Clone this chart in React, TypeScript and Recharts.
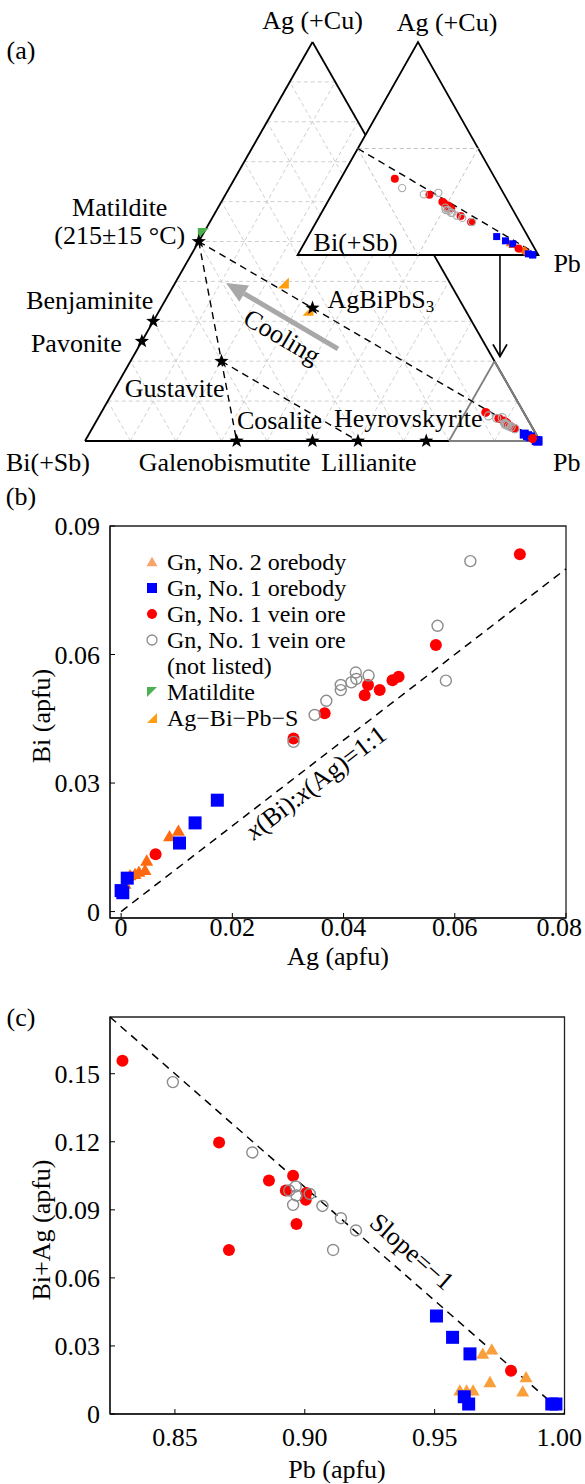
import React from 'react';
import { ScatterChart, Scatter, XAxis, YAxis, ReferenceLine, ReferenceArea, Legend } from 'recharts';

const FONT = '"Liberation Serif", "Times New Roman", Times, serif';
const FS = 26;

// ---------------- Panel (b): Ag vs Bi (apfu) ----------------
const bNo2Ag = [0.0103, 0.0087, 0.0046, 0.0043, 0.0025, 0.0016, 0.0007, 0.0032];
const bNo2Bi = [0.0186, 0.0173, 0.0116, 0.0094, 0.0085, 0.0082, 0.0062, 0.009];
const bNo1Ag = [0.0173, 0.0133, 0.0105, 0.0011, 0.0, 0.0003];
const bNo1Bi = [0.026, 0.0207, 0.016, 0.0078, 0.0049, 0.0044];
const bVeinAg = [0.0717, 0.0566, 0.0499, 0.0488, 0.0465, 0.0444, 0.0438, 0.0366, 0.031, 0.0062];
const bVeinBi = [0.0834, 0.0622, 0.0548, 0.054, 0.0517, 0.0529, 0.0505, 0.0463, 0.0404, 0.0134];
const bVeinNLAg = [0.0628, 0.0569, 0.0584, 0.0422, 0.0445, 0.0423, 0.0414, 0.0395, 0.0395, 0.0369, 0.0348, 0.031];
const bVeinNLBi = [0.0818, 0.0667, 0.0539, 0.0558, 0.0551, 0.0543, 0.0535, 0.0529, 0.0517, 0.0492, 0.0459, 0.0396];
const bXTicks = [0, 0.02, 0.04, 0.06, 0.08];
const bYTicks = [0, 0.03, 0.06, 0.09];

// ---------------- Panel (c): Pb vs Bi+Ag (apfu) ----------------
const cNo2Pb = [0.9685, 0.972, 0.9852, 0.9713, 0.9839, 0.9597, 0.9623, 0.9648];
const cNo2BiAg = [0.026, 0.0279, 0.0157, 0.0135, 0.0094, 0.0098, 0.0098, 0.0098];
const cNo1Pb = [0.9507, 0.9569, 0.9636, 0.9614, 0.9631, 0.9951, 0.9967];
const cNo1BiAg = [0.0432, 0.0338, 0.0265, 0.0076, 0.0044, 0.0044, 0.0044];
const cVeinPb = [0.8298, 0.867, 0.8862, 0.8955, 0.8927, 0.9004, 0.9006, 0.8968, 0.8708, 0.9794];
const cVeinBiAg = [0.1557, 0.1197, 0.1029, 0.105, 0.0985, 0.0944, 0.0974, 0.0838, 0.0723, 0.0191];
const cVeinNLPb = [0.8492, 0.8798, 0.894, 0.8965, 0.8968, 0.8955, 0.9019, 0.9068, 0.9139, 0.9197, 0.9109];
const cVeinNLBiAg = [0.1463, 0.1153, 0.0985, 0.1003, 0.0963, 0.0922, 0.097, 0.0917, 0.0863, 0.0809, 0.0723];
const cXTicks = [0.85, 0.9, 0.95, 1.0];
const cYTicks = [0, 0.03, 0.06, 0.09, 0.12, 0.15];

// ---------------- Panel (a): ternary Ag - Bi - Pb ----------------
const mineralNames = ['Matildite', 'Benjaminite', 'Pavonite', 'Gustavite', 'AgBiPbS3', 'Galenobismutite', 'Cosalite', 'Lillianite', 'Heyrovskyite'];
const mineralAg = [0.5, 0.3, 0.25, 0.2, 1 / 3, 0, 0, 0, 0];
const mineralBi = [0.5, 0.7, 0.75, 0.6, 1 / 3, 2 / 3, 0.5, 0.4, 0.25];
const mineralPb = [0, 0, 0, 0.2, 1 / 3, 1 / 3, 0.5, 0.6, 0.75];
const phaseAg = [0.396, 0.328];
const phaseBi = [0.366, 0.346];
const phasePb = [0.238, 0.326];
const matildAg = [0.52];
const matildBi = [0.48];
const matildPb = [0.0];
const gridSteps = [0.1, 0.2, 0.3, 0.4, 0.5, 0.6, 0.7, 0.8, 0.9];
const insetPbMin = 0.8;

// ---------------- helpers ----------------
type P = { x: number; y: number };
const tern = (ag: number, bi: number, pb: number): P => {
  const s = ag + bi + pb;
  return { x: (pb + ag / 2) / s, y: ag / s };
};
const IW = 1 - insetPbMin;
const ternInset = (ag: number, bi: number, pb: number): P => {
  const s = ag + bi + pb;
  const a = ag / s / IW;
  const p = (pb / s - insetPbMin) / IW;
  return { x: p + a / 2, y: a };
};
const zip = (xs: number[], ys: number[]) => xs.map((x, i) => ({ x, y: ys[i] }));
const galena = (ag: number[], bi: number[], f: (a: number, b: number, c: number) => P) =>
  ag.map((a, i) => f(a, bi[i], 1 - a - bi[i]));

const C = {
  red: '#ff0000',
  blue: '#0000ff',
  gray: '#8c8c8c',
  orangeB: '#ff6a10',
  orangeC: '#f9a03c',
  orangeLeg: '#f6a46c',
  phase: '#ff9f0f',
  green: '#4caf50',
};

const circleS = (r: number, fill: string) => (p: any) =>
  p.cx == null ? <g /> : <circle cx={p.cx} cy={p.cy} r={r} fill={fill} />;
const ringS = (r: number, stroke: string, sw: number) => (p: any) =>
  p.cx == null ? <g /> : <circle cx={p.cx} cy={p.cy} r={r} fill="none" stroke={stroke} strokeWidth={sw} />;
const squareS = (s: number, fill: string) => (p: any) =>
  p.cx == null ? <g /> : <rect x={p.cx - s / 2} y={p.cy - s / 2} width={s} height={s} fill={fill} />;
const triPts = (cx: number, cy: number, s: number) => {
  const h = s * 0.866;
  return `${cx},${cy - (h * 2) / 3} ${cx - s / 2},${cy + h / 3} ${cx + s / 2},${cy + h / 3}`;
};
const triS = (s: number, fill: string) => (p: any) =>
  p.cx == null ? <g /> : <polygon points={triPts(p.cx, p.cy, s)} fill={fill} />;
const rtriPts = (cx: number, cy: number, s: number) =>
  `${cx + s / 2},${cy - s / 2} ${cx + s / 2},${cy + s / 2} ${cx - s / 2},${cy + s / 2}`;
const rtriS = (s: number, fill: string) => (p: any) =>
  p.cx == null ? <g /> : <polygon points={rtriPts(p.cx, p.cy, s)} fill={fill} />;
const ltriPts = (cx: number, cy: number, s: number) =>
  `${cx - s / 2},${cy - s / 2} ${cx + s / 2},${cy - s / 2} ${cx - s / 2},${cy + s / 2}`;
const ltriS = (s: number, fill: string) => (p: any) =>
  p.cx == null ? <g /> : <polygon points={ltriPts(p.cx, p.cy, s)} fill={fill} />;
const starPath = (cx: number, cy: number, R: number, r: number) => {
  let d = '';
  for (let i = 0; i < 10; i++) {
    const rad = i % 2 === 0 ? R : r;
    const a = -Math.PI / 2 + (i * Math.PI) / 5;
    d += (i === 0 ? 'M' : 'L') + (cx + rad * Math.cos(a)).toFixed(2) + ',' + (cy + rad * Math.sin(a)).toFixed(2);
  }
  return d + 'Z';
};
const starS = (p: any) => (p.cx == null ? <g /> : <path d={starPath(p.cx, p.cy, 7.5, 3)} fill="#000" />);

const labelS = (p: any) => {
  const d = p.payload || {};
  if (p.cx == null) return <g />;
  const x = p.cx + (d.dx || 0);
  const y = p.cy + (d.dy || 0);
  return (
    <text
      x={x}
      y={y}
      textAnchor={d.anchor || 'middle'}
      dominantBaseline="central"
      fontFamily={FONT}
      fontSize={FS}
      fill="#000"
      transform={d.rotate ? `rotate(${d.rotate} ${x} ${y})` : undefined}
    >
      {d.parts
        ? d.parts.map((pt: any, i: number) => (
            <tspan key={i} fontStyle={pt.i ? 'italic' : undefined} dy={pt.dy} fontSize={pt.fs}>
              {pt.t}
            </tspan>
          ))
        : d.text}
    </text>
  );
};

const grayArrow = (p: any) => {
  const { x1, y1, x2, y2 } = p;
  const ang = Math.atan2(y2 - y1, x2 - x1);
  const L = 21, W = 9.5;
  const bx = x2 - L * Math.cos(ang), by = y2 - L * Math.sin(ang);
  const nx = -Math.sin(ang), ny = Math.cos(ang);
  return (
    <g>
      <line x1={x1} y1={y1} x2={bx} y2={by} stroke="#a8a8a8" strokeWidth={5} />
      <polygon points={`${x2},${y2} ${bx + W * nx},${by + W * ny} ${bx - W * nx},${by - W * ny}`} fill="#a8a8a8" />
    </g>
  );
};
const openArrow = (p: any) => {
  const { x1, y1, x2, y2 } = p;
  const ang = Math.atan2(y2 - y1, x2 - x1);
  const L = 12, W = 7;
  const bx = x2 - L * Math.cos(ang), by = y2 - L * Math.sin(ang);
  const nx = -Math.sin(ang), ny = Math.cos(ang);
  return (
    <g>
      <line x1={x1} y1={y1} x2={x2} y2={y2} stroke="#000" strokeWidth={1.6} />
      <polyline points={`${bx + W * nx},${by + W * ny} ${x2},${y2} ${bx - W * nx},${by - W * ny}`} fill="none" stroke="#000" strokeWidth={1.8} />
    </g>
  );
};

// layout of the ternary panel (chart domains chosen so the triangle lands in place)
const A_XDOM: [number, number] = [-85 / 455, 500 / 455];
const A_YDOM: [number, number] = [-39 / 399, 441 / 399];
const I_XDOM: [number, number] = [-297.6 / 240.8, (585 - 297.6) / 240.8];
const I_YDOM: [number, number] = [(255 - 480) / 213, 255 / 213];

const coolingArrow: P[] = [{ x: 0.556, y: 0.231 }, { x: 0.31, y: 0.396 }];
const downArrow: P[] = [{ x: 0.912, y: 0.466 }, { x: 0.912, y: 0.212 }];

const mineralLabelLayout: Record<string, any[]> = {
  Matildite: [
    { text: 'Matildite', dx: -79, dy: -34 },
    { text: '(215±15 °C)', dx: -79, dy: -6 },
  ],
  Benjaminite: [{ text: 'Benjaminite', dx: 0, dy: -21, anchor: 'end' }],
  Pavonite: [{ text: 'Pavonite', dx: -20, dy: 2, anchor: 'end' }],
  Gustavite: [{ text: 'Gustavite', dx: 3, dy: 27, anchor: 'end' }],
  AgBiPbS3: [{ parts: [{ t: 'AgBiPbS' }, { t: '3', dy: 7, fs: 17 }], dx: 15, dy: -9, anchor: 'start' }],
  Galenobismutite: [{ text: 'Galenobismutite', dx: -12, dy: 21 }],
  Cosalite: [{ text: 'Cosalite', dx: -33, dy: -21 }],
  Lillianite: [{ text: 'Lillianite', dx: 11, dy: 21 }],
  Heyrovskyite: [{ text: 'Heyrovskyrite', dx: -18, dy: -23 }],
};

const segLine = (a: P, b: P, key: string, stroke: string, sw: number, dash?: string) => (
  <ReferenceLine
    key={key}
    segment={[a, b]}
    stroke={stroke}
    strokeWidth={sw}
    strokeDasharray={dash}
    ifOverflow="visible"
  />
);

function TernaryMain() {
  const vAg = tern(1, 0, 0), vBi = tern(0, 1, 0), vPb = tern(0, 0, 1);
  const minerals = mineralNames.map((n, i) => ({ name: n, ...tern(mineralAg[i], mineralBi[i], mineralPb[i]) }));
  const grid: P[][] = gridSteps.flatMap((k) => [
    [tern(k, 1 - k, 0), tern(k, 0, 1 - k)],
    [tern(0, 1 - k, k), tern(1 - k, 0, k)],
    [tern(0, k, 1 - k), tern(1 - k, k, 0)],
  ]);
  const m = (n: string) => minerals.find((q) => q.name === n)!;
  const joins: P[][] = [
    [m('Matildite'), vPb],
    [m('Matildite'), m('Galenobismutite')],
    [m('Gustavite'), m('Lillianite')],
  ];
  const g1 = tern(0, 1 - insetPbMin, insetPbMin), g2 = tern(1 - insetPbMin, 0, insetPbMin);
  const labels: any[] = [];
  minerals.forEach((q) => (mineralLabelLayout[q.name] || []).forEach((l) => labels.push({ x: q.x, y: q.y, ...l })));
  labels.push({ ...vAg, text: 'Ag (+Cu)', dx: 0, dy: -22 });
  labels.push({ ...vBi, text: 'Bi(+Sb)', dx: -37, dy: 21 });
  labels.push({ ...vPb, text: 'Pb', dx: 13, dy: 21, anchor: 'start' });
  labels.push({ x: 0.433, y: 0.261, text: 'Cooling', rotate: 30.5 });

  return (
    <ScatterChart width={585} height={480} margin={{ top: 0, right: 0, bottom: 0, left: 0 }}>
      <XAxis type="number" dataKey="x" domain={A_XDOM} hide allowDataOverflow />
      <YAxis type="number" dataKey="y" domain={A_YDOM} hide allowDataOverflow />
      {grid.map((s, i) => segLine(s[0], s[1], 'g' + i, '#c9c9c9', 0.9, '4 3'))}
      {segLine(vBi, vPb, 'e1', '#000', 1.8)}
      {segLine(vPb, vAg, 'e2', '#000', 1.8)}
      {segLine(vAg, vBi, 'e3', '#000', 1.8)}
      {segLine(g1, g2, 'z1', '#808080', 1.8)}
      {segLine(g2, vPb, 'z2', '#808080', 1.8)}
      {segLine(g1, vPb, 'z3', '#808080', 1.8)}
      {joins.map((s, i) => segLine(s[0], s[1], 'j' + i, '#000', 1.4, '7 5'))}
      <ReferenceLine segment={coolingArrow} shape={grayArrow} ifOverflow="visible" />
      <ReferenceLine segment={downArrow} shape={openArrow} ifOverflow="visible" />
      <Scatter data={galena(bNo2Ag, bNo2Bi, tern)} shape={triS(9, C.orangeB)} isAnimationActive={false} />
      <Scatter data={galena(bNo1Ag, bNo1Bi, tern)} shape={squareS(9, C.blue)} isAnimationActive={false} />
      <Scatter data={galena(bVeinAg, bVeinBi, tern)} shape={circleS(4.5, C.red)} isAnimationActive={false} />
      <Scatter data={galena(bVeinNLAg, bVeinNLBi, tern)} shape={ringS(4, '#aaa', 1.2)} isAnimationActive={false} />
      <Scatter data={phaseAg.map((a, i) => tern(a, phaseBi[i], phasePb[i]))} shape={rtriS(11, C.phase)} isAnimationActive={false} />
      <Scatter data={matildAg.map((a, i) => tern(a, matildBi[i], matildPb[i]))} shape={ltriS(11, C.green)} isAnimationActive={false} />
      <Scatter data={minerals} shape={starS} isAnimationActive={false} />
      <Scatter data={labels} shape={labelS} isAnimationActive={false} />
    </ScatterChart>
  );
}

const insetTriangle = (p: any) => {
  const { x, y, width, height } = p;
  return (
    <polygon
      points={`${x},${y + height} ${x + width / 2},${y} ${x + width},${y + height}`}
      fill="#fff"
      stroke="#000"
      strokeWidth={1.8}
    />
  );
};

function TernaryInset() {
  const mid = [tern(0.5, 0.5, 0), tern(0.5, 0, 0.5), tern(0, 0.5, 0.5)];
  const labels = [
    { ...tern(1, 0, 0), text: 'Ag (+Cu)', dx: 29, dy: -20 },
    { ...tern(0, 1, 0), text: 'Bi(+Sb)', dx: 16, dy: -13, anchor: 'start' },
    { ...tern(0, 0, 1), text: 'Pb', dx: 15, dy: 8, anchor: 'start' },
  ];
  return (
    <ScatterChart width={585} height={480} margin={{ top: 0, right: 0, bottom: 0, left: 0 }}>
      <XAxis type="number" dataKey="x" domain={I_XDOM} hide allowDataOverflow />
      <YAxis type="number" dataKey="y" domain={I_YDOM} hide allowDataOverflow />
      <ReferenceArea x1={0} x2={1} y1={0} y2={1} shape={insetTriangle} ifOverflow="visible" />
      {segLine(mid[0], mid[1], 'm1', '#c4c4c4', 1, '4 3')}
      {segLine(mid[0], mid[2], 'm2', '#c4c4c4', 1, '4 3')}
      {segLine(mid[1], mid[2], 'm3', '#c4c4c4', 1, '4 3')}
      {segLine(mid[0], tern(0, 0, 1), 'l11', '#000', 1.4, '7 5')}
      <Scatter data={galena(bNo2Ag, bNo2Bi, ternInset)} shape={triS(8, C.orangeB)} isAnimationActive={false} />
      <Scatter data={galena(bNo1Ag, bNo1Bi, ternInset)} shape={squareS(7, C.blue)} isAnimationActive={false} />
      <Scatter data={galena(bVeinAg, bVeinBi, ternInset)} shape={circleS(4, C.red)} isAnimationActive={false} />
      <Scatter data={galena(bVeinNLAg, bVeinNLBi, ternInset)} shape={ringS(3.6, '#aaa', 1.1)} isAnimationActive={false} />
      <Scatter data={labels} shape={labelS} isAnimationActive={false} />
    </ScatterChart>
  );
}

const fmtTick = (v: number) => (v === 0 ? '0' : v.toFixed(2));
const tickStyle = { fill: '#000', fontSize: FS, fontFamily: FONT };

// bottom-axis tick: keeps the last label inside the picture, as in the reference
const XTick = (props: any) => {
  const { x, y, payload } = props;
  const label = fmtTick(payload.value);
  const half = label.length * 6.1;
  const fits = x + half <= 583;
  return (
    <text x={fits ? x : 582} y={y} dy="0.71em" textAnchor={fits ? 'middle' : 'end'} fill="#000" fontSize={FS} fontFamily={FONT}>
      {label}
    </text>
  );
};

const LFS = 24;
const legendItems = [
  { label: 'Gn, No. 2 orebody', icon: 'tri', color: C.orangeLeg },
  { label: 'Gn, No. 1 orebody', icon: 'square', color: C.blue },
  { label: 'Gn, No. 1 vein ore', icon: 'circle', color: C.red },
  { label: 'Gn, No. 1 vein ore', label2: '(not listed)', icon: 'ring', color: C.gray },
  { label: 'Matildite', icon: 'ltri', color: C.green },
  { label: 'Ag−Bi−Pb−S', icon: 'rtri', color: C.phase },
];
const legendIcon = (icon: string, color: string) => {
  const cx = 12, cy = 13;
  if (icon === 'tri') return <polygon points={triPts(cx, cy + 1, 11)} fill={color} />;
  if (icon === 'square') return <rect x={cx - 5} y={cy - 5} width={10} height={10} fill={color} />;
  if (icon === 'circle') return <circle cx={cx} cy={cy} r={5} fill={color} />;
  if (icon === 'ring') return <circle cx={cx} cy={cy} r={5} fill="none" stroke={color} strokeWidth={1.3} />;
  if (icon === 'ltri') return <polygon points={ltriPts(cx, cy, 10)} fill={color} />;
  return <polygon points={rtriPts(cx, cy, 10)} fill={color} />;
};
const renderLegend = () => (
  <div style={{ fontFamily: FONT, fontSize: LFS, lineHeight: '26px', color: '#000', whiteSpace: 'nowrap' }}>
    {legendItems.map((it, i) => (
      <React.Fragment key={i}>
        <div style={{ display: 'flex', alignItems: 'center', height: 26 }}>
          <svg width={27} height={26} style={{ flex: 'none' }}>
            {legendIcon(it.icon, it.color)}
          </svg>
          <span>{it.label}</span>
        </div>
        {it.label2 ? <div style={{ paddingLeft: 27, height: 26 }}>{it.label2}</div> : null}
      </React.Fragment>
    ))}
  </div>
);

const B_XDOM: [number, number] = [-0.002, 0.08];
const B_YDOM: [number, number] = [-0.0015, 0.09];

function PanelB() {
  return (
    <ScatterChart width={585} height={500} margin={{ top: 46, right: 19, bottom: 32, left: 50 }}>
      <XAxis type="number" dataKey="x" domain={B_XDOM} ticks={bXTicks} interval={0}
        allowDataOverflow stroke="#000" tickSize={-5} tickMargin={5} height={30} tick={XTick} />
      <YAxis type="number" dataKey="y" domain={B_YDOM} ticks={bYTicks} tickFormatter={fmtTick} interval={0}
        allowDataOverflow stroke="#000" tickSize={-5} tickMargin={15} width={60} tick={tickStyle} />
      <ReferenceArea x1={B_XDOM[0]} x2={B_XDOM[1]} y1={B_YDOM[0]} y2={B_YDOM[1]} fill="none" fillOpacity={0}
        stroke="#222" strokeWidth={1.3} ifOverflow="visible" />
      <ReferenceLine segment={[{ x: 0, y: 0 }, { x: 0.08, y: 0.08 }]} stroke="#000" strokeWidth={1.5}
        strokeDasharray="8 6" ifOverflow="visible" />
      <Scatter data={zip(bNo2Ag, bNo2Bi)} shape={triS(13, C.orangeB)} isAnimationActive={false} />
      <Scatter data={zip(bNo1Ag, bNo1Bi)} shape={squareS(13, C.blue)} isAnimationActive={false} />
      <Scatter data={zip(bVeinAg, bVeinBi)} shape={circleS(6, C.red)} isAnimationActive={false} />
      <Scatter data={zip(bVeinNLAg, bVeinNLBi)} shape={ringS(5.5, C.gray, 1.4)} isAnimationActive={false} />
      <Scatter
        data={[{ x: 0.035, y: 0.0302, rotate: -37.5, parts: [{ t: 'x', i: true }, { t: '(Bi):' }, { t: 'x', i: true }, { t: '(Ag)=1:1' }] }]}
        shape={labelS}
        isAnimationActive={false}
      />
      <Legend content={renderLegend} layout="vertical" align="center" verticalAlign="middle"
        wrapperStyle={{ left: 140, top: 69, width: 240 }} />
    </ScatterChart>
  );
}

const C_XDOM: [number, number] = [0.825, 1.0];
const C_YDOM: [number, number] = [0, 0.175];

function PanelC() {
  return (
    <ScatterChart width={585} height={504} margin={{ top: 37, right: 20.5, bottom: 40, left: 50 }}>
      <XAxis type="number" dataKey="x" domain={C_XDOM} ticks={cXTicks} interval={0}
        allowDataOverflow stroke="#000" tickSize={-5} tickMargin={19} height={30} tick={XTick} />
      <YAxis type="number" dataKey="y" domain={C_YDOM} ticks={cYTicks} tickFormatter={fmtTick} interval={0}
        allowDataOverflow stroke="#000" tickSize={-5} tickMargin={15} width={60} tick={tickStyle} />
      <ReferenceArea x1={C_XDOM[0]} x2={C_XDOM[1]} y1={C_YDOM[0]} y2={C_YDOM[1]} fill="none" fillOpacity={0}
        stroke="#222" strokeWidth={1.3} ifOverflow="visible" />
      <ReferenceLine segment={[{ x: 0.825, y: 0.175 }, { x: 1.0, y: 0.0 }]} stroke="#000" strokeWidth={1.5}
        strokeDasharray="8 6" ifOverflow="visible" />
      <Scatter data={zip(cNo2Pb, cNo2BiAg)} shape={triS(13, C.orangeC)} isAnimationActive={false} />
      <Scatter data={zip(cNo1Pb, cNo1BiAg)} shape={squareS(13, C.blue)} isAnimationActive={false} />
      <Scatter data={zip(cVeinPb, cVeinBiAg)} shape={circleS(6, C.red)} isAnimationActive={false} />
      <Scatter data={zip(cVeinNLPb, cVeinNLBiAg)} shape={ringS(5.5, C.gray, 1.4)} isAnimationActive={false} />
      <Scatter data={[{ x: 0.9412, y: 0.0715, rotate: 41.1, text: 'Slope=−1' }]} shape={labelS} isAnimationActive={false} />
    </ScatterChart>
  );
}

const textDiv = (text: string, left: number, top: number, rotate = 0): React.ReactNode => (
  <div
    style={{
      position: 'absolute',
      left,
      top,
      transform: `translate(-50%, -50%) rotate(${rotate}deg)`,
      whiteSpace: 'nowrap',
      fontFamily: FONT,
      fontSize: FS,
      lineHeight: '30px',
      color: '#000',
    }}
  >
    {text}
  </div>
);

export default function App() {
  return (
    <div style={{ position: 'absolute', left: 0, top: 0, width: 585, height: 1484, background: '#fff', overflow: 'hidden' }}>
      <div style={{ position: 'absolute', left: 0, top: 0 }}>
        <TernaryMain />
      </div>
      <div style={{ position: 'absolute', left: 0, top: 0 }}>
        <TernaryInset />
      </div>
      <div style={{ position: 'absolute', left: 0, top: 480 }}>
        <PanelB />
      </div>
      <div style={{ position: 'absolute', left: 0, top: 980 }}>
        <PanelC />
      </div>
      {textDiv('(a)', 21, 51)}
      {textDiv('(b)', 21, 497)}
      {textDiv('(c)', 21, 1018)}
      {textDiv('Bi (apfu)', 42, 716, -90)}
      {textDiv('Ag (apfu)', 338, 957)}
      {textDiv('Bi+Ag (apfu)', 42, 1230, -90)}
      {textDiv('Pb (apfu)', 337, 1470)}
    </div>
  );
}
